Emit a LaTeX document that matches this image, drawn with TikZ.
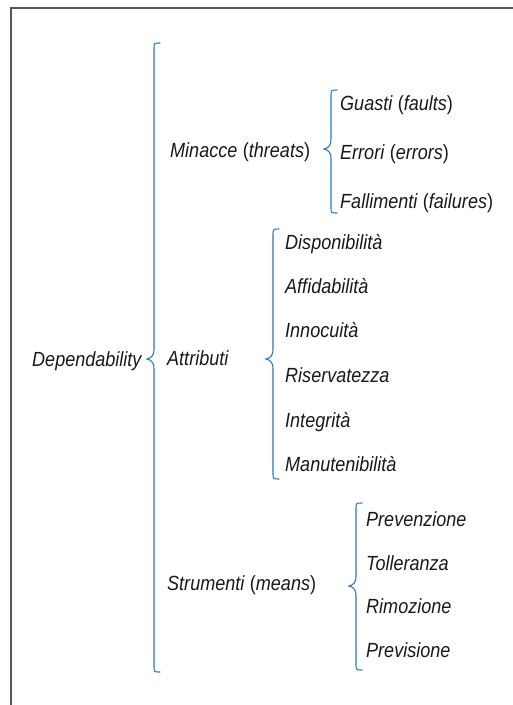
\documentclass[tikz,border=0pt]{standalone}
\usepackage{fontspec}
\setmainfont{Liberation Sans}[FakeStretch=0.88]
\definecolor{bracecol}{RGB}{42,122,186}
\definecolor{framecol}{RGB}{85,85,85}
\definecolor{inkcol}{RGB}{25,25,25}
% curly brace: x of the stem, top y, tip y, bottom y
\newcommand\curlybrace[4]{%
  \draw[bracestroke] (#1+6,#2) .. controls (#1,#2) .. (#1,#2+6)
    -- (#1,#3-10) .. controls (#1,#3-3) and (#1-3,#3-1) .. (#1-7,#3)
    .. controls (#1-3,#3+1) and (#1,#3+3) .. (#1,#3+10)
    -- (#1,#4-6) .. controls (#1,#4) .. (#1+6,#4);}
\newcommand\pr[1]{\hspace{0.5pt}\textup{(}#1\textup{)}}
\begin{document}
\begin{tikzpicture}[x=1pt,y=-1pt,
  bracestroke/.style={draw=bracecol,line width=1.1pt,line cap=round},
  framestroke/.style={draw=framecol,line width=1.5pt},
  term/.style={anchor=base west,inner sep=0pt,text=inkcol,
    font=\fontsize{20.5}{22}\selectfont\itshape}]
\useasboundingbox (0,0) rectangle (513,705);
% frame edges
\draw[framestroke] (11,705) -- (11,8) -- (513,8);

% root
\node[term] (dep) at (32,366) {Dependability};
\curlybrace{154}{43}{359}{672}

% second level
\node[term] (thr) at (170,157) {Minacce \pr{threats}};
\node[term] (att) at (167,365) {Attributi};
\node[term] (mea) at (167,590) {Strumenti \pr{means}};

% threats
\curlybrace{331}{90}{149}{213}
\node[term] (t1) at (340,110) {Guasti \pr{faults}};
\node[term] (t2) at (340,159) {Errori \pr{errors}};
\node[term] (t3) at (340,208) {Fallimenti \pr{failures}};

% attributes
\curlybrace{273}{229}{359}{479}
\node[term] (a1) at (285,249) {Disponibilità};
\node[term] (a2) at (285,293) {Affidabilità};
\node[term] (a3) at (285,337) {Innocuità};
\node[term] (a4) at (285,382) {Riservatezza};
\node[term] (a5) at (285,427) {Integrità};
\node[term] (a6) at (285,471) {Manutenibilità};

% means
\curlybrace{356}{503}{586}{670}
\node[term] (m1) at (366,526) {Prevenzione};
\node[term] (m2) at (366,570) {Tolleranza};
\node[term] (m3) at (366,613) {Rimozione};
\node[term] (m4) at (366,657) {Previsione};
\end{tikzpicture}
\end{document}
